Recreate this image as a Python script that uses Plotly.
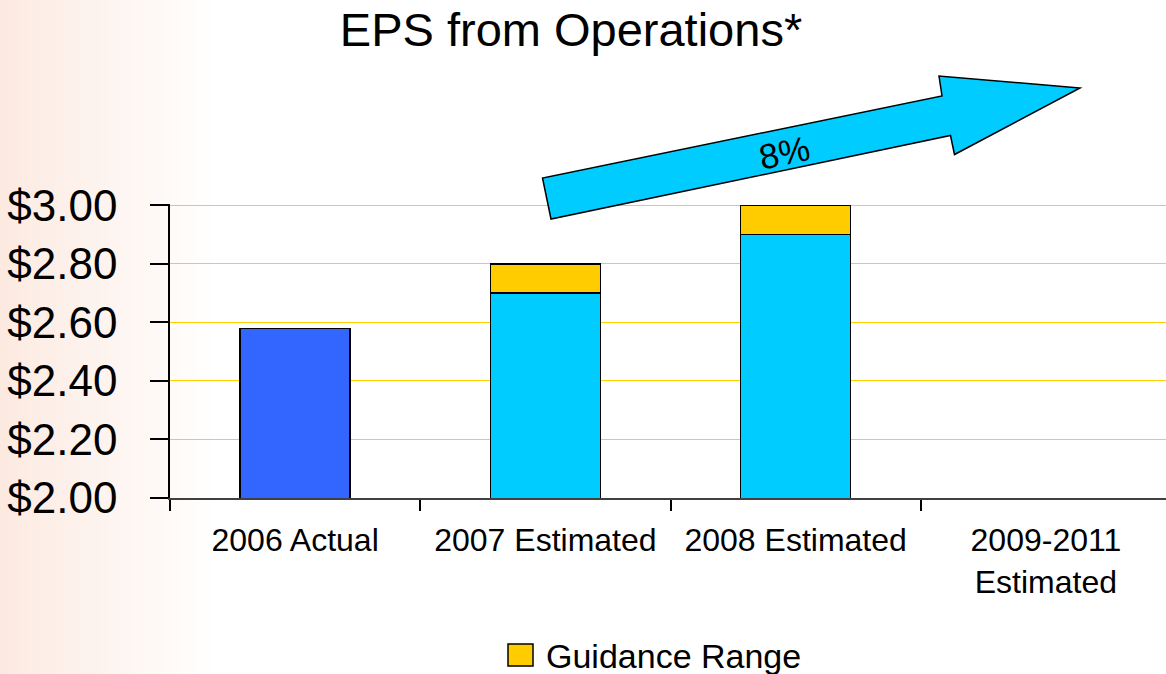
import plotly.graph_objects as go

# ---------------- data ----------------
categories = ["2006 Actual", "2007 Estimated", "2008 Estimated", "2009-2011<br>Estimated"]
actual_eps = [2.58, None, None, None]
estimate_low = [None, 2.70, 2.90, None]
estimate_high = [None, 2.80, 3.00, None]
guidance_range = [None if (lo is None or hi is None) else round(hi - lo, 2)
                  for lo, hi in zip(estimate_low, estimate_high)]
y_ticks = [2.00, 2.20, 2.40, 2.60, 2.80, 3.00]
growth_label = "8%"
title_text = "EPS from Operations*"
legend_label = "Guidance Range"

# ---------------- style ----------------
FONT = "Liberation Sans, Arial, sans-serif"
W, H = 1166, 674
ML, MR, MT, MB = 170, 0, 204, 176
PW, PH = W - ML - MR, H - MT - MB


def px(x):
    return (x - ML) / PW


def py(y):
    return (H - MB - y) / PH


line_style = dict(color="black", width=1.5)

fig = go.Figure()
fig.add_trace(go.Bar(x=categories, y=actual_eps, name="Actual",
                     marker=dict(color="#3366FF", line=line_style),
                     width=0.44, showlegend=False))
fig.add_trace(go.Bar(x=categories, y=estimate_low, name="Estimated",
                     marker=dict(color="#00CCFF", line=line_style),
                     width=0.44, showlegend=False))
fig.add_trace(go.Bar(x=categories, y=guidance_range, name=legend_label,
                     marker=dict(color="#FFCC00", line=line_style),
                     width=0.44, showlegend=False))

shapes = []
# left-edge peach gradient background
n = 50
x0, x1 = 0, 220
c0 = (252, 234, 225)
for i in range(n):
    t = i / (n - 1)
    r = round(c0[0] + (255 - c0[0]) * t)
    g = round(c0[1] + (255 - c0[1]) * t)
    b = round(c0[2] + (255 - c0[2]) * t)
    xa = x0 + (x1 - x0) * i / n
    xb = x0 + (x1 - x0) * (i + 1) / n + 0.6
    shapes.append(dict(type="rect", xref="paper", yref="paper", layer="below",
                       x0=px(xa), x1=px(xb), y0=py(H), y1=py(0),
                       fillcolor=f"rgb({r},{g},{b})", line=dict(width=0)))

# growth arrow (decoration)
arrow_pts = [(551, 219), (542.5, 178), (942, 96), (939, 76), (1080, 88),
             (954.5, 154.5), (950.5, 135.5)]
path = "M " + " L ".join(f"{px(a):.5f},{py(b):.5f}" for a, b in arrow_pts) + " Z"
shapes.append(dict(type="path", xref="paper", yref="paper", path=path,
                   fillcolor="#00CCFF", line=dict(color="black", width=1.5)))

# manual legend swatch
shapes.append(dict(type="rect", xref="paper", yref="paper",
                   x0=px(508), x1=px(533), y0=py(666), y1=py(644),
                   fillcolor="#FFCC00", line=dict(color="black", width=1.5)))

annotations = [
    dict(text=growth_label, xref="paper", yref="paper", x=px(784), y=py(152),
         showarrow=False, textangle=-11.6, font=dict(family=FONT, size=35, color="black"),
         xanchor="center", yanchor="middle"),
    dict(text=legend_label, xref="paper", yref="paper", x=px(544), y=py(656),
         showarrow=False, font=dict(family=FONT, size=34, color="black"),
         xanchor="left", yanchor="middle"),
]

fig.update_layout(
    width=W, height=H,
    margin=dict(l=ML, r=MR, t=MT, b=MB, pad=0),
    paper_bgcolor="white", plot_bgcolor="rgba(0,0,0,0)",
    barmode="stack", bargap=0.56,
    showlegend=False,
    title=dict(text=title_text, x=571 / W, xanchor="center", xref="container",
               y=1 - 30 / H, yanchor="middle", yref="container",
               font=dict(family=FONT, size=47, color="black")),
    shapes=shapes, annotations=annotations,
    font=dict(family=FONT, color="black"),
)

fig.update_xaxes(
    range=[-0.5, 3.48], type="category",
    showline=True, linecolor="#404040", linewidth=1.5,
    ticks="outside", tickson="boundaries", ticklen=11, tickcolor="black", tickwidth=1.5,
    tickfont=dict(family=FONT, size=32, color="black"),
    showgrid=False, fixedrange=True, ticklabelstandoff=13,
)
fig.update_yaxes(
    range=[2.0, 3.005],
    tickvals=y_ticks, tickformat="$.2f",
    showline=True, linecolor="black", linewidth=1.5,
    ticks="outside", ticklen=18, tickcolor="black", tickwidth=1.5,
    tickfont=dict(family=FONT, size=44, color="black"),
    showgrid=True, gridcolor="#FFD000", gridwidth=1.3,
    zeroline=False, fixedrange=True, ticklabelstandoff=24,
)

fig.write_html("out.html", config={"displayModeBar": False},
               post_script="document.body.style.margin='0';")
